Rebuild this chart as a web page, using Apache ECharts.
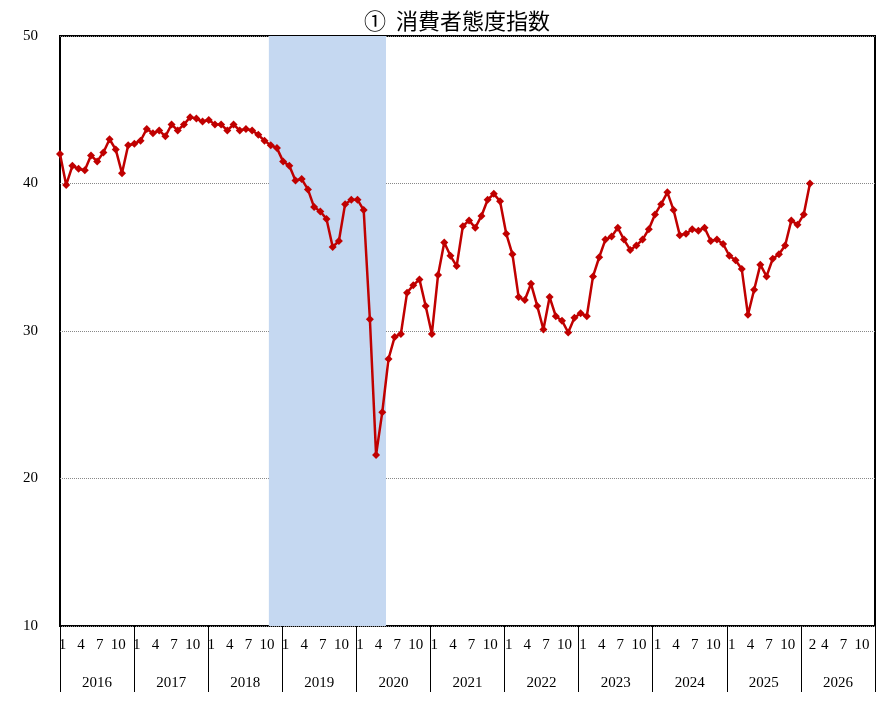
<!DOCTYPE html>
<html><head><meta charset="utf-8">
<script src="https://cdn.jsdelivr.net/npm/echarts@6/dist/echarts.min.js"></script>
<style>html,body{margin:0;padding:0;background:#fff}#c{width:886px;height:711px}</style>
</head><body><div id="c"></div>
<script>
const years = ['2016','2017','2018','2019','2020','2021','2022','2023','2024','2025','2026'];
const values = [
42.0,39.9,41.2,41.0,40.9,41.9,41.5,42.1,43.0,42.3,40.7,42.6,
42.7,42.9,43.7,43.4,43.6,43.2,44.0,43.6,44.0,44.5,44.4,44.2,
44.3,44.0,44.0,43.6,44.0,43.6,43.7,43.6,43.3,42.9,42.6,42.4,
41.5,41.2,40.2,40.3,39.6,38.4,38.1,37.6,35.7,36.1,38.6,38.9,
38.9,38.2,30.8,21.6,24.5,28.1,29.6,29.8,32.6,33.1,33.5,31.7,
29.8,33.8,36.0,35.1,34.4,37.1,37.5,37.0,37.8,38.9,39.3,38.8,
36.6,35.2,32.3,32.1,33.2,31.7,30.1,32.3,31.0,30.7,29.9,30.9,
31.2,31.0,33.7,35.0,36.2,36.4,37.0,36.2,35.5,35.8,36.2,36.9,
37.9,38.6,39.4,38.2,36.5,36.6,36.9,36.8,37.0,36.1,36.2,35.9,
35.1,34.8,34.2,31.1,32.8,34.5,33.7,34.9,35.2,35.8,37.5,37.2,
37.9,40.0];
const monthTicks = {0:'1',3:'4',6:'7',9:'10'};
const shade = [33.7, 52.6];
const yTicks = [10,20,30,40,50];
const serif = 'Liberation Serif';
const chart = echarts.init(document.getElementById('c'));
chart.setOption({
  animation:false,
  title:{text:'①  消費者態度指数',left:452,top:5,textAlign:'center',
    textStyle:{fontFamily:'Noto Sans CJK JP',fontSize:22,fontWeight:'normal',color:'#000'}},
  grid:{left:60,right:11,top:36,bottom:85,show:true,borderColor:'#000',borderWidth:2},
  xAxis:[{type:'value',min:0,max:131.5,interval:1,
    axisLine:{show:false},axisTick:{show:false},splitLine:{show:false},
    axisLabel:{margin:12,padding:[0,0,0,5],fontFamily:serif,fontSize:15,color:'#000',showMaxLabel:false,
      formatter:v=>{ if(v===120) return ''; if(v===121) return '2'; return monthTicks[v%12]||''; }}},
   {type:'category',data:years,position:'bottom',boundaryGap:true,
    axisLine:{show:false},axisTick:{show:true,length:66,inside:false,lineStyle:{color:'#000'}},
    axisLabel:{margin:50,fontFamily:serif,fontSize:15,color:'#000'}}],
  yAxis:{type:'value',min:10,max:50,interval:10,
    axisLine:{show:false},axisTick:{show:false},
    axisLabel:{fontFamily:serif,fontSize:15,color:'#000',margin:22,formatter:v=>yTicks.includes(v)?String(v):''},
    splitLine:{lineStyle:{color:'#888',type:'dotted',width:1}}},
  series:[{type:'line',data:values.map((v,i)=>[i,v]),
    symbol:'diamond',symbolSize:8,lineStyle:{color:'#c00000',width:2.5},itemStyle:{color:'#c00000'},
    markArea:{silent:true,itemStyle:{color:'#c5d8f1'},data:[[{xAxis:shade[0]},{xAxis:shade[1]}]]},z:3}]
});
</script></body></html>
